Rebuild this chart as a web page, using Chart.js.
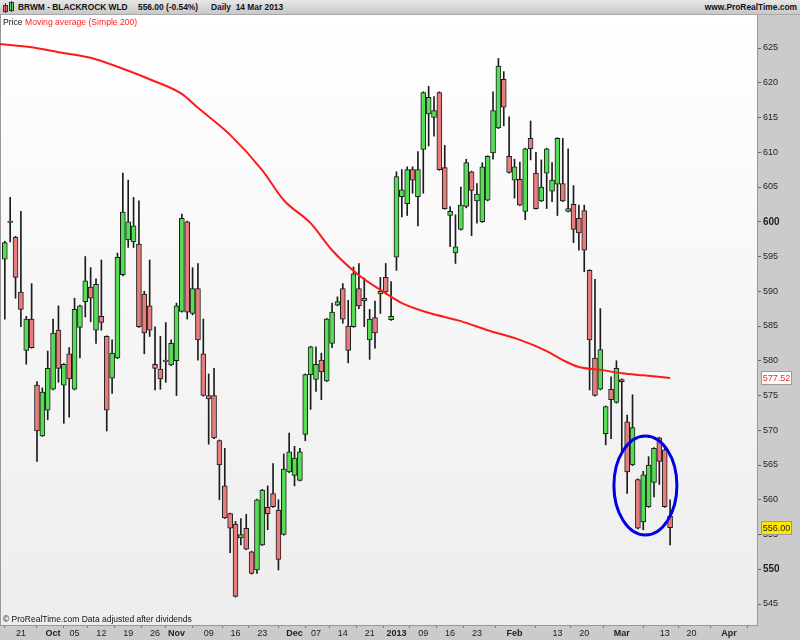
<!DOCTYPE html>
<html>
<head>
<meta charset="utf-8">
<script src="https://cdn.jsdelivr.net/npm/chart.js@4.4.1/dist/chart.umd.min.js"></script>
<style>
    body { margin: 0; background: #fff; }
    #wrap { position: relative; width: 800px; height: 640px; background: #cbcbcb; overflow: hidden; font-family: "Liberation Sans", Arial, sans-serif; }
    #chart { position: absolute; left: 0; top: 0; }
    #top { position: absolute; left: 0; top: 0; width: 800px; height: 15px; background: linear-gradient(#e6e6e6, #c8c8c8); border-bottom: 1px solid #a8a8a8; box-sizing: border-box; font-size: 8.4px; font-weight: bold; color: #111; }
    #top span { position: absolute; top: 1.5px; white-space: nowrap; }
    .txt { position: absolute; white-space: nowrap; color: #111; }
</style>
</head>
<body>
<div id="wrap">
    <canvas id="chart" width="800" height="640"></canvas>
    <div id="top">
        <span style="left:2px;top:1px;">
            <svg width="14" height="12"><rect x="1.5" y="4.5" width="4" height="6" fill="#e67c7c" stroke="#333"/><line x1="3.5" y1="2" x2="3.5" y2="12" stroke="#333"/><rect x="7.5" y="1.5" width="4" height="8" fill="#55dd55" stroke="#333"/><line x1="9.5" y1="0" x2="9.5" y2="11" stroke="#333"/></svg>
        </span>
        <span style="left:18px;">BRWM - BLACKROCK WLD</span>
        <span style="left:138px;">556.00 (-0.54%)</span>
        <span style="left:211px;">Daily&nbsp; 14 Mar 2013</span>
        <span style="right:3px;">www.ProRealTime.com</span>
    </div>
    <div class="txt" style="left:3px;top:17px;font-size:8.6px;">Price <span style="color:#ff2020;">Moving average (Simple 200)</span></div>
    <div class="txt" style="left:3px;top:614px;font-size:8.5px;">© ProRealTime.com Data adjusted after dividends</div>
</div>
<script>
// daily candles, 18 Sep 2012 .. 14 Mar 2013 (index = trading day)
const open = [594.6, 600.1, 597.8, 589.9, 581.5, 586.0, 576.5, 569.2, 572.9, 575.9,
    584.4, 576.5, 581.0, 575.9, 584.8, 588.5, 590.6, 584.4, 586.4, 583.5,
    577.5, 580.4, 592.4, 597.4, 597.1, 596.8, 589.6, 587.9, 579.5, 578.8,
    580.1, 579.4, 580.0, 587.1, 600.0, 586.8, 590.4, 581.0, 575.0, 575.0,
    568.5, 562.0, 558.0, 556.5, 554.5, 555.9, 552.5, 549.9, 553.5, 558.9,
    560.9, 558.5, 555.0, 564.0, 563.5, 562.8, 569.4, 578.0, 577.3, 580.1,
    577.1, 582.5, 588.0, 590.4, 585.0, 584.9, 590.4, 588.6, 583.0, 586.2,
    589.6, 592.0, 585.9, 594.9, 603.6, 602.6, 607.5, 603.6, 610.4, 615.5,
    615.0, 618.6, 607.8, 600.9, 595.5, 598.9, 602.2, 607.2, 603.0, 600.0,
    603.1, 609.9, 613.5, 620.5, 609.4, 606.0, 606.1, 601.5, 612.0, 607.0,
    603.0, 607.0, 604.4, 605.4, 605.5, 601.5, 602.5, 600.5, 601.6, 593.0,
    580.4, 575.9, 569.5, 575.9, 574.0, 577.3, 571.2, 565.0, 562.9, 556.8,
    559.0, 562.5, 568.9, 567.2, 557.6];
const high = [597.2, 603.5, 597.9, 601.5, 586.4, 591.1, 577.0, 576.1, 581.4, 586.0,
    587.9, 579.6, 581.9, 589.0, 588.0, 595.0, 593.4, 591.8, 594.5, 583.6,
    583.0, 595.5, 607.0, 606.0, 603.5, 603.0, 590.0, 594.5, 584.9, 583.5,
    585.5, 583.0, 588.3, 601.1, 600.1, 593.4, 594.0, 586.0, 578.1, 578.9,
    568.6, 567.4, 558.1, 556.9, 557.3, 557.9, 552.6, 560.1, 561.5, 562.0,
    565.2, 560.0, 566.6, 569.6, 567.7, 567.4, 578.1, 582.1, 582.0, 581.1,
    586.1, 588.3, 589.2, 591.1, 588.7, 593.5, 594.0, 591.9, 587.4, 588.6,
    592.0, 594.0, 591.4, 607.2, 607.5, 607.9, 607.9, 610.1, 618.7, 619.5,
    618.0, 618.7, 611.0, 602.2, 601.0, 605.0, 609.0, 607.3, 605.5, 608.5,
    609.5, 618.7, 623.5, 621.6, 615.1, 609.0, 608.6, 610.6, 614.5, 610.0,
    608.9, 610.6, 608.5, 612.1, 612.0, 610.5, 605.2, 602.4, 602.4, 593.1,
    591.7, 587.5, 573.5, 577.7, 580.0, 577.4, 572.2, 575.1, 563.0, 564.1,
    566.2, 567.5, 569.0, 567.4, 560.0];
const low = [586.0, 597.1, 589.0, 584.9, 579.5, 581.8, 565.5, 569.1, 571.5, 575.8,
    576.9, 571.0, 571.9, 575.8, 580.4, 586.3, 585.6, 582.5, 584.4, 569.9,
    575.3, 580.3, 592.2, 596.3, 596.3, 584.8, 581.0, 583.5, 575.8, 575.9,
    576.9, 579.3, 575.0, 587.0, 586.0, 586.6, 580.1, 574.9, 568.0, 568.8,
    560.0, 557.3, 552.4, 546.0, 553.5, 552.8, 549.3, 549.4, 553.4, 555.7,
    558.9, 549.9, 554.9, 563.9, 562.0, 562.7, 568.5, 573.0, 575.6, 574.4,
    577.0, 581.9, 587.9, 585.4, 579.7, 584.8, 587.5, 584.9, 580.2, 581.8,
    586.8, 589.8, 585.8, 593.0, 600.7, 600.9, 604.1, 599.4, 604.1, 610.9,
    612.3, 607.4, 601.8, 596.4, 594.0, 598.8, 602.0, 598.0, 599.8, 599.9,
    603.0, 609.0, 613.4, 613.8, 607.0, 603.4, 602.3, 600.3, 608.9, 601.8,
    602.9, 601.9, 602.9, 600.9, 602.9, 601.4, 597.0, 595.9, 592.8, 575.8,
    574.9, 575.8, 567.9, 568.8, 573.9, 566.7, 560.9, 564.9, 555.8, 555.7,
    558.9, 560.4, 562.2, 558.9, 553.5];
const close = [597.0, 599.9, 592.0, 587.4, 586.0, 581.9, 569.9, 575.5, 578.9, 584.0,
    578.9, 579.5, 577.4, 587.4, 587.9, 591.5, 589.0, 591.0, 585.5, 572.9,
    581.1, 594.9, 601.4, 600.0, 599.4, 584.9, 584.0, 584.4, 578.9, 577.4,
    579.9, 582.5, 587.9, 600.5, 587.0, 590.4, 583.0, 575.0, 574.5, 568.9,
    565.0, 557.4, 555.9, 546.1, 555.0, 552.9, 549.4, 560.0, 561.4, 558.0,
    559.0, 551.4, 564.4, 566.9, 566.0, 566.9, 578.0, 582.0, 579.5, 578.4,
    586.0, 587.0, 588.5, 586.0, 581.5, 592.5, 587.9, 589.0, 586.0, 584.0,
    590.0, 589.9, 586.4, 606.5, 604.6, 607.5, 606.0, 607.5, 618.6, 617.9,
    616.0, 607.5, 601.9, 601.5, 596.4, 602.4, 608.5, 604.5, 604.0, 607.9,
    609.4, 616.0, 622.4, 616.5, 607.1, 607.9, 602.4, 610.5, 610.5, 601.9,
    605.0, 610.5, 606.0, 612.0, 603.0, 601.9, 598.9, 598.4, 595.9, 583.0,
    575.0, 581.6, 573.4, 574.4, 578.9, 577.0, 564.0, 570.4, 555.9, 563.6,
    565.0, 567.4, 565.5, 559.0, 556.0];

// simple 200 moving average, read at a few trading days
const maIdx = [-1, 5, 10, 16, 21, 27, 33, 36, 42, 48, 52, 57, 61, 66, 70, 74, 79, 85, 90, 96, 101, 104, 107, 111, 115, 119, 124];
const maVal = [625.6, 625.1, 624.4, 623.6, 622.3, 620.5, 618.4, 616.4, 612.5, 607.4, 603.1, 599.8, 595.9, 592.3, 590.2, 588.3, 586.9, 585.7, 584.4, 583.0, 581.4, 580.1, 579.1, 578.7, 578.2, 577.9, 577.52];

// date axis: trading-day index and label
const xTickIdx = [3, 9, 13, 18, 23, 28, 32, 38, 43, 48, 54, 58, 63, 68, 73, 78, 83, 88, 95, 103, 108, 115, 123, 128, 135];
const xTickLabels = ['21', 'Oct', '05', '12', '19', '26', 'Nov', '09', '16', '23', 'Dec', '07', '14', '21', '2013', '09', '16', '23', 'Feb', '13', '20', 'Mar', '13', '20', 'Apr'];
const yTicks = [545, 550, 555, 560, 565, 570, 575, 580, 585, 590, 595, 600, 605, 610, 615, 620, 625];

// marked zone (centre day / price, half sizes)
const zone = { x: 119.4, y: 562.05, rx: 5.87, ry: 7.12 };

const GREEN = '#55dd55';
const RED = '#e67c7c';
const FONT = '"Liberation Sans", Arial, sans-serif';

const days = close.map((c, i) => i);

const framePlugin = {
    id: 'frame',
    beforeDraw(chart) {
        const { ctx, chartArea: a } = chart;
        const g = ctx.createLinearGradient(0, a.top, 0, a.bottom);
        g.addColorStop(0, '#ffffff');
        g.addColorStop(1, '#ededed');
        ctx.save();
        ctx.fillStyle = g;
        ctx.fillRect(a.left, a.top, a.right - a.left, a.bottom - a.top);
        ctx.fillStyle = '#999';
        ctx.fillRect(a.left, a.top, 1, a.bottom - a.top);
        ctx.restore();
    },
    afterDraw(chart) {
        const { ctx } = chart;
        const xs = chart.scales.x, ys = chart.scales.y;
        ctx.save();
        // blue ellipse
        const cx = xs.getPixelForValue(zone.x), cy = ys.getPixelForValue(zone.y);
        const rx = xs.getPixelForValue(zone.x + zone.rx) - cx;
        const ry = cy - ys.getPixelForValue(zone.y + zone.ry);
        ctx.beginPath();
        ctx.ellipse(cx, cy, rx, ry, 0, 0, Math.PI * 2);
        ctx.strokeStyle = '#0000e6';
        ctx.lineWidth = 3;
        ctx.stroke();

        // last value tags on the price axis
        function tag(v, bg, fg) {
            const y = Math.round(ys.getPixelForValue(v));
            ctx.fillStyle = bg;
            ctx.fillRect(761.5, y - 6.5, 30, 13);
            ctx.strokeStyle = '#9a9a9a';
            ctx.lineWidth = 1;
            ctx.strokeRect(761.5, y - 6.5, 30, 13);
            ctx.fillStyle = fg;
            ctx.font = '9px ' + FONT;
            ctx.textAlign = 'center';
            ctx.textBaseline = 'middle';
            ctx.fillText(v.toFixed(2), 776.5, y + 0.5);
        }
        tag(maVal[maVal.length - 1], '#ffffff', '#ff2020');
        tag(close[close.length - 1], '#ffe600', '#222');
        ctx.restore();
    }
};

new Chart(document.getElementById('chart').getContext('2d'), {
    type: 'bar',
    data: {
        datasets: [{
            type: 'line',
            label: 'Moving average (Simple 200)',
            data: maIdx.map((d, i) => ({ x: d, y: maVal[i] })),
            borderColor: '#ff1a1a',
            borderWidth: 2,
            pointRadius: 0,
            cubicInterpolationMode: 'monotone',
            order: 0
        }, {
            label: 'body',
            data: days.map(i => ({ x: i, y: [open[i], close[i]] })),
            backgroundColor: days.map(i => close[i] >= open[i] ? GREEN : RED),
            borderColor: '#1c1c1c',
            borderWidth: 1,
            borderSkipped: false,
            barThickness: 5,
            order: 1
        }, {
            label: 'wick',
            data: days.map(i => ({ x: i, y: [low[i], high[i]] })),
            backgroundColor: '#1c1c1c',
            barThickness: 1,
            order: 2
        }]
    },
    options: {
        responsive: false,
        animation: false,
        layout: { padding: { top: 15, left: 0, right: 0, bottom: 0 } },
        datasets: { bar: { grouped: false } },
        plugins: { legend: { display: false }, tooltip: { enabled: false } },
        scales: {
            x: {
                type: 'linear',
                min: -0.895,
                max: 140.2,
                offset: false,
                afterBuildTicks: s => { s.ticks = xTickIdx.map(v => ({ value: v })); },
                afterFit: s => { s.height = 15; },
                grid: { drawOnChartArea: false, tickLength: 3, color: '#777' },
                border: { color: '#999' },
                ticks: {
                    autoSkip: false,
                    maxRotation: 0,
                    padding: 0,
                    color: '#222',
                    callback: v => xTickLabels[xTickIdx.indexOf(v)],
                    font: c => ({ family: FONT, size: 9, weight: /^\d\d$/.test(xTickLabels[c.index]) ? 'normal' : 'bold' })
                }
            },
            y: {
                position: 'right',
                min: 541.98,
                max: 629.75,
                afterBuildTicks: s => { s.ticks = yTicks.map(v => ({ value: v })); },
                afterFit: s => { s.width = 43; },
                grid: { drawOnChartArea: false, tickLength: 4, color: '#666' },
                border: { color: '#999' },
                ticks: {
                    padding: 2,
                    color: '#222',
                    callback: v => String(v),
                    font: c => (c.tick && c.tick.value % 50 === 0)
                        ? { family: FONT, size: 10, weight: 'bold' }
                        : { family: FONT, size: 9 }
                }
            }
        }
    },
    plugins: [framePlugin]
});
</script>
</body>
</html>
